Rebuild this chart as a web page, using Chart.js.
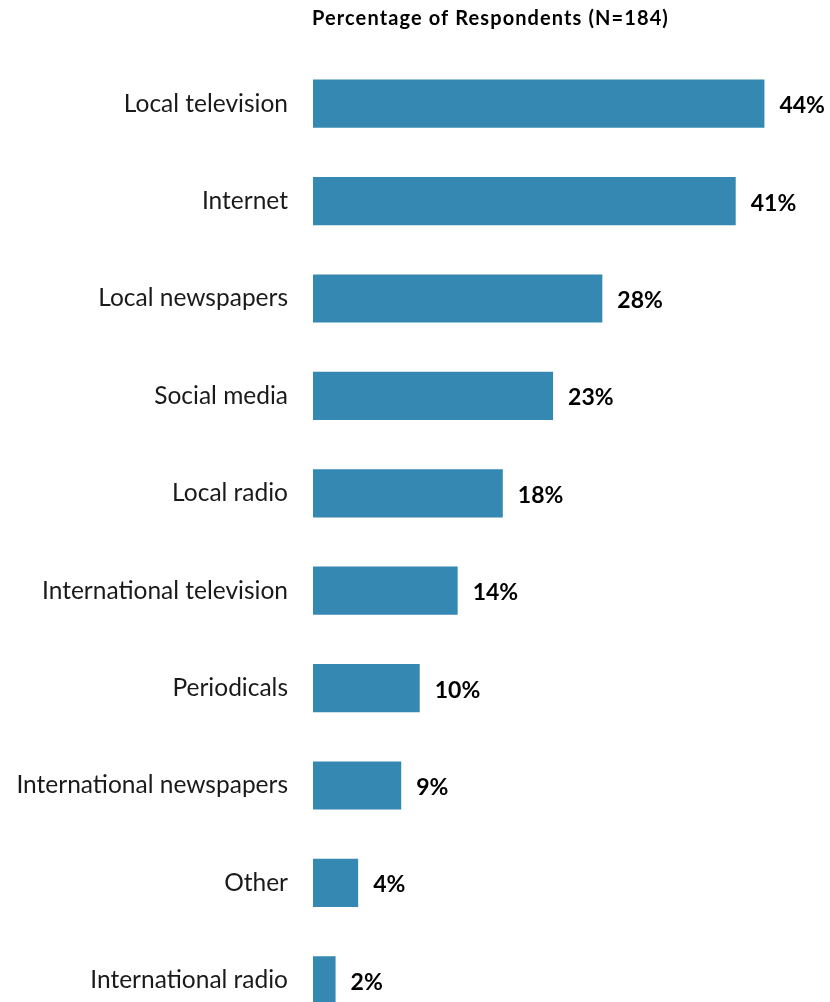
<!DOCTYPE html>
<html>
<head>
<meta charset="utf-8">
<script src="https://cdn.jsdelivr.net/npm/chart.js@4"></script>
<style>
  html, body { margin: 0; padding: 0; background: #fff; overflow: hidden; }
  canvas { display: block; }
</style>
</head>
<body>
<canvas id="barChart" width="830" height="1040"></canvas>
<script>
  'use strict';

  var categories = [
    'Local television',
    'Internet',
    'Local newspapers',
    'Social media',
    'Local radio',
    'International television',
    'Periodicals',
    'International newspapers',
    'Other',
    'International radio'
  ];
  // bar lengths as measured, and the rounded labels printed beside them
  var shares = [44.0, 41.2, 28.2, 23.4, 18.5, 14.1, 10.4, 8.6, 4.4, 2.2];
  var valueLabels = ['44%', '41%', '28%', '23%', '18%', '14%', '10%', '9%', '4%', '2%'];
  var chartTitle = 'Percentage of Respondents (N=184)';

  var fontFamily = 'Lato, "Open Sans", sans-serif';
  var barColor = '#3488b1';

  // values written to the right of each bar, plus the title over the plot
  var labelsPlugin = {
    id: 'barLabels',
    afterDatasetsDraw: function(chart) {
      var ctx = chart.ctx;
      var meta = chart.getDatasetMeta(0);
      ctx.save();
      ctx.fillStyle = '#000';
      ctx.font = 'bold 23px ' + fontFamily;
      ctx.textAlign = 'left';
      ctx.textBaseline = 'middle';
      meta.data.forEach(function(bar, i) {
        ctx.fillText(valueLabels[i], bar.x + 15, bar.y + 2);
      });
      ctx.font = 'bold 20px ' + fontFamily;
      ctx.letterSpacing = '1.1px';
      ctx.fillText(chartTitle, chart.chartArea.left - 1, 19);
      ctx.restore();
    }
  };

  var ctx = document.getElementById('barChart').getContext('2d');
  var barChart = new Chart(ctx, {
    type: 'bar',
    data: {
      labels: categories,
      datasets: [{
        data: shares,
        backgroundColor: barColor,
        borderWidth: 0,
        barPercentage: 0.495,
        categoryPercentage: 1
      }]
    },
    options: {
      responsive: false,
      indexAxis: 'y',
      animation: false,
      // canvas is taller than the window so the last bar runs off the bottom edge
      layout: { padding: { top: 55, bottom: 11, left: 0, right: 4 } },
      plugins: {
        legend: { display: false },
        tooltip: { enabled: false }
      },
      scales: {
        x: {
          display: false,
          min: 0,
          max: 50
        },
        y: {
          afterFit: function(scale) {
            scale.width = 313;
            scale.paddingTop = 0;
            scale.paddingBottom = 0;
          },
          grid: { display: false, drawTicks: false },
          border: { display: false },
          ticks: {
            color: '#1a1a1a',
            padding: 25,
            font: { family: fontFamily, size: 24.5 }
          }
        }
      }
    },
    plugins: [labelsPlugin]
  });
</script>
</body>
</html>
